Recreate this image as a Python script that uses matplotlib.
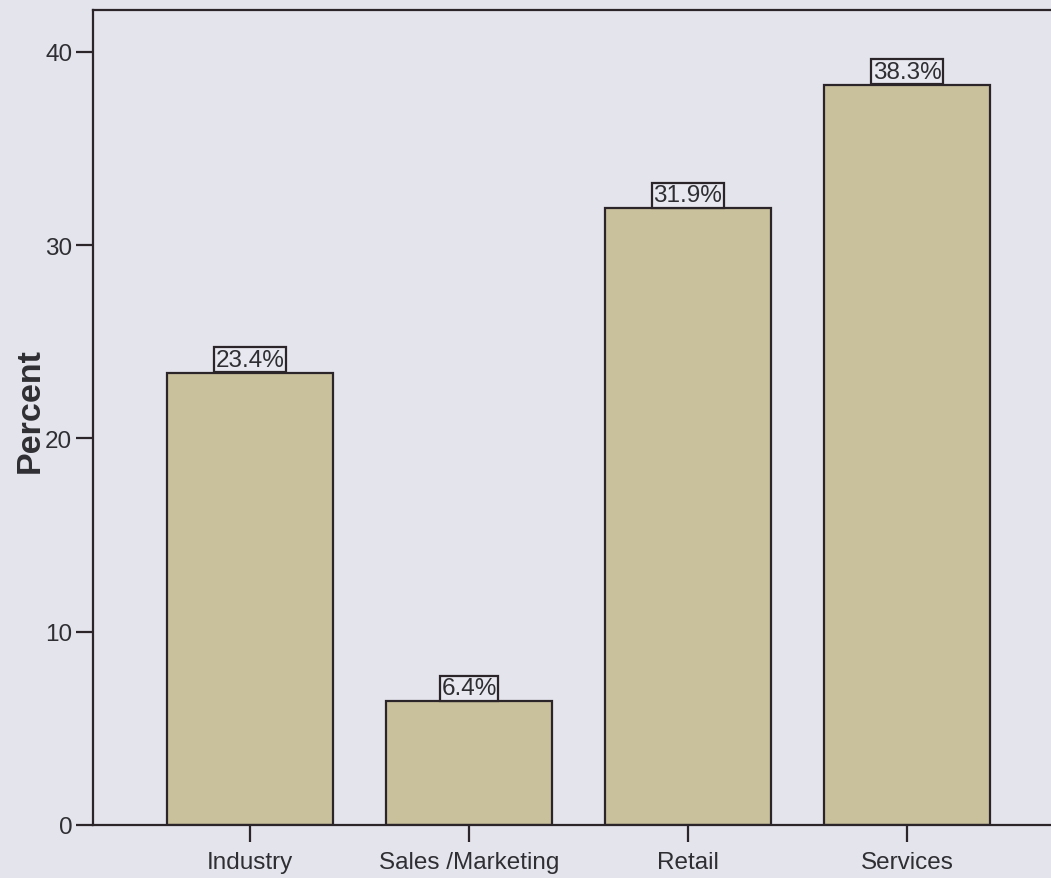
import matplotlib
matplotlib.use("Agg")
import matplotlib.pyplot as plt

# Share of respondents by sector
categories = ["Industry", "Sales /Marketing", "Retail", "Services"]
percent = [23.4, 6.4, 31.9, 38.3]
y_ticks = [0, 10, 20, 30, 40]

BG = "#e4e4ed"
BAR = "#c9c19c"
EDGE = "#2b2428"
TEXT = "#2e2e33"

plt.rcParams["font.family"] = ["Liberation Sans", "DejaVu Sans"]

fig = plt.figure(figsize=(10.51, 8.79), dpi=100, facecolor=BG)
W, H = 1051, 879
left, right, top, bottom = 93, 1064, 11, 826
ax = fig.add_axes([left / W, (H - bottom) / H, (right - left) / W, (bottom - top) / H])
ax.set_facecolor(BG)

x = list(range(len(categories)))
ax.bar(x, percent, width=0.755, color=BAR, edgecolor=EDGE, linewidth=1.6, zorder=2)

for xi, v in zip(x, percent):
    ax.annotate(f"{v}%", xy=(xi, v), xytext=(0, 1.5), textcoords="offset points",
                ha="center", va="bottom", fontsize=17.5, color=TEXT, zorder=3,
                bbox=dict(boxstyle="square,pad=0.07", facecolor="#e8e8f0",
                          edgecolor=EDGE, linewidth=1.6))

ax.set_xlim(-0.717, 3.717)
ax.set_ylim(0, 42.17)
ax.set_yticks(y_ticks)
ax.set_xticks(x)
ax.set_xticklabels(categories)

for side in ["left", "top", "bottom", "right"]:
    ax.spines[side].set_linewidth(1.6)
    ax.spines[side].set_color(EDGE)

ax.tick_params(axis="y", length=12, width=1.6, color=EDGE, labelsize=17.5,
               labelcolor=TEXT, pad=3)
ax.tick_params(axis="x", length=12, width=1.6, color=EDGE, labelsize=17.5,
               labelcolor=TEXT, pad=7)

ax.set_ylabel("Percent", fontsize=24.5, fontweight="bold", color=TEXT)
ax.yaxis.set_label_coords(-0.049, 0.51)

fig.savefig("out.png", dpi=100, facecolor=BG)
